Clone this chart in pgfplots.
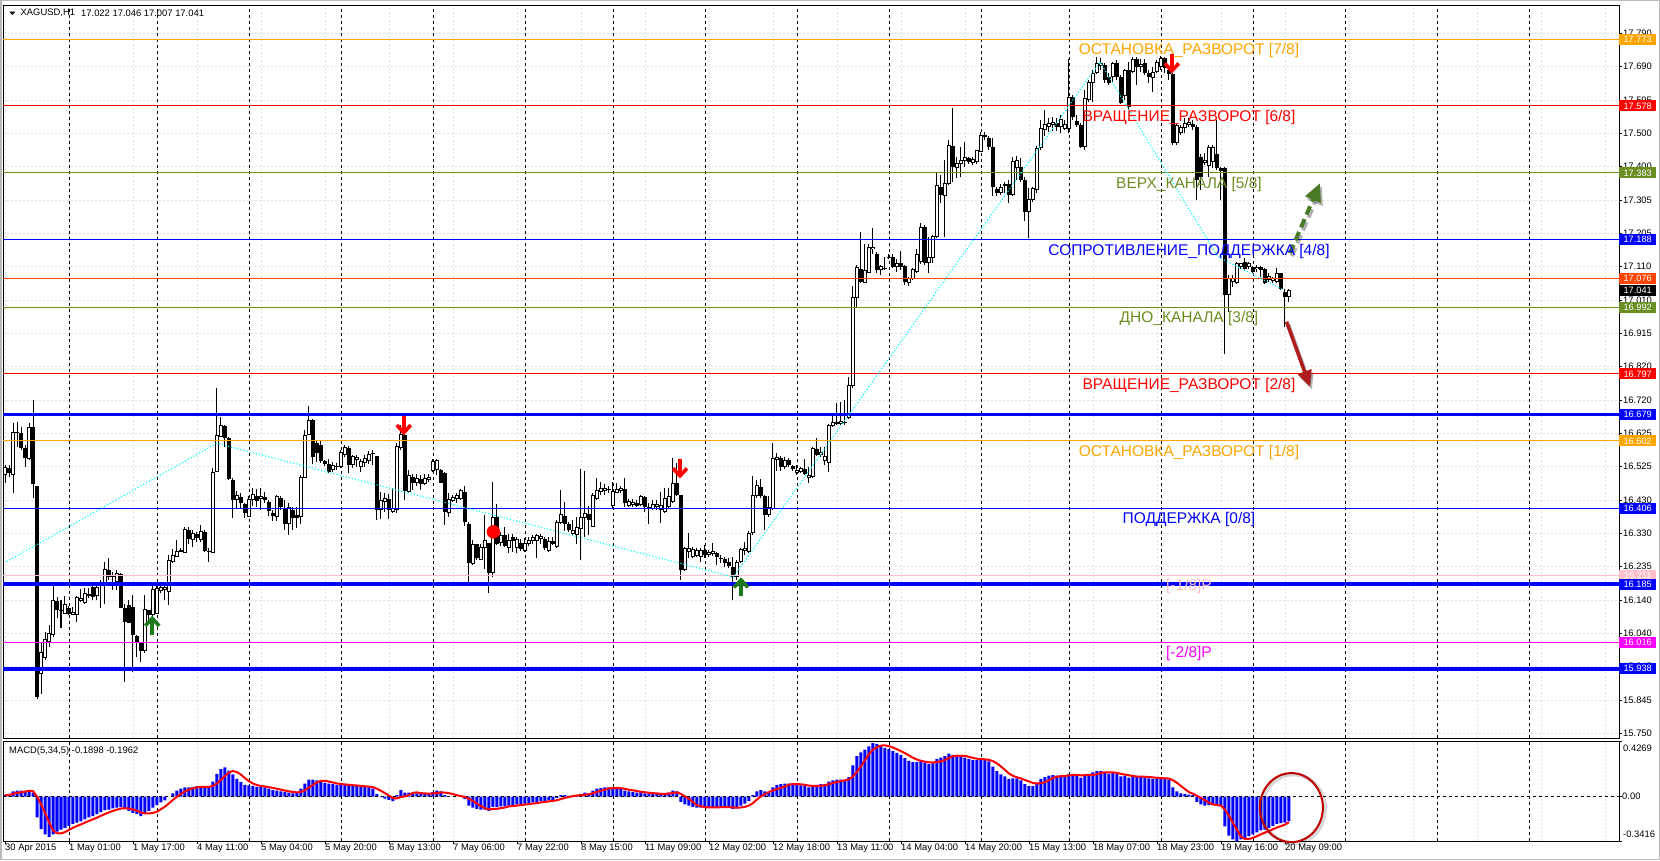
\documentclass[border=0pt]{standalone}
\usepackage{pgfplots}
\pgfplotsset{compat=1.18}
\usepackage{pgfplotstable}
\usepackage{fontspec}
\setmainfont{Liberation Sans}
\usetikzlibrary{arrows.meta}

\definecolor{mtorange}{HTML}{FFA500}
\definecolor{mtred}{HTML}{FF0000}
\definecolor{mtolive}{HTML}{6B8E23}
\definecolor{mtblue}{HTML}{0000FF}
\definecolor{mtorred}{HTML}{FF4500}
\definecolor{mtpink}{HTML}{FFC0CB}
\definecolor{mtmag}{HTML}{FF00FF}
\definecolor{mtcyan}{HTML}{00FFFF}
\definecolor{mtgreen}{HTML}{1C7A1C}
\definecolor{arrgreen}{HTML}{4A7A28}
\definecolor{arrred}{HTML}{B01C1C}
\definecolor{gridgray}{HTML}{E2E2E2}

\pgfdeclareplotmark{dnarrow}{%
  \pgfsetlinewidth{3.6pt}\pgfsetmiterjoin\pgfsetbuttcap
  \pgfpathmoveto{\pgfqpoint{0pt}{9pt}}\pgfpathlineto{\pgfqpoint{0pt}{-6pt}}\pgfusepathqstroke
  \pgfpathmoveto{\pgfqpoint{-7pt}{0pt}}\pgfpathlineto{\pgfqpoint{0pt}{-7.5pt}}\pgfpathlineto{\pgfqpoint{7pt}{0pt}}\pgfusepathqstroke}
\pgfdeclareplotmark{uparrow}{%
  \pgfsetlinewidth{3.6pt}\pgfsetmiterjoin\pgfsetbuttcap
  \pgfpathmoveto{\pgfqpoint{0pt}{-9pt}}\pgfpathlineto{\pgfqpoint{0pt}{6pt}}\pgfusepathqstroke
  \pgfpathmoveto{\pgfqpoint{-7pt}{0pt}}\pgfpathlineto{\pgfqpoint{0pt}{7.5pt}}\pgfpathlineto{\pgfqpoint{7pt}{0pt}}\pgfusepathqstroke}

\pgfplotstableread{
i o h l c m s
0 16.502 16.531 16.478 16.527 0.010 0.010
1 16.522 16.531 16.497 16.507 0.020 0.012
2 16.502 16.653 16.449 16.629 0.040 0.020
3 16.624 16.658 16.585 16.629 0.045 0.029
4 16.624 16.643 16.575 16.580 0.045 0.032
5 16.580 16.590 16.525 16.551 0.040 0.038
6 16.548 16.653 16.546 16.643 0.050 0.044
7 16.643 16.721 16.437 16.475 0.030 0.042
8 16.470 16.470 15.849 15.857 -0.160 0.001
9 15.924 16.012 15.864 15.988 -0.250 -0.058
10 15.968 16.046 15.963 16.024 -0.290 -0.124
11 16.017 16.065 16.002 16.041 -0.310 -0.196
12 16.036 16.189 16.031 16.138 -0.290 -0.260
13 16.136 16.148 16.085 16.109 -0.270 -0.282
14 16.109 16.138 16.056 16.107 -0.255 -0.283
15 16.099 16.150 16.099 16.128 -0.240 -0.273
16 16.114 16.121 16.094 16.099 -0.225 -0.256
17 16.096 16.119 16.094 16.104 -0.210 -0.240
18 16.096 16.150 16.075 16.146 -0.200 -0.226
19 16.136 16.169 16.133 16.143 -0.190 -0.214
20 16.130 16.172 16.128 16.158 -0.175 -0.200
21 16.150 16.172 16.143 16.156 -0.160 -0.187
22 16.175 16.187 16.138 16.148 -0.150 -0.175
23 16.150 16.192 16.138 16.175 -0.135 -0.162
24 16.192 16.196 16.114 16.182 -0.120 -0.148
25 16.182 16.250 16.128 16.230 -0.105 -0.134
26 16.226 16.260 16.196 16.206 -0.100 -0.122
27 16.206 16.221 16.167 16.211 -0.090 -0.110
28 16.192 16.226 16.167 16.216 -0.085 -0.100
29 16.214 16.218 16.114 16.114 -0.080 -0.092
30 16.114 16.128 15.900 16.075 -0.095 -0.090
31 16.124 16.138 16.070 16.070 -0.110 -0.092
32 16.117 16.153 15.929 16.036 -0.125 -0.099
33 16.033 16.036 15.973 16.012 -0.135 -0.109
34 16.012 16.017 15.958 15.991 -0.150 -0.123
35 15.991 16.153 15.983 16.111 -0.130 -0.130
36 16.109 16.109 16.070 16.094 -0.110 -0.130
37 16.094 16.187 16.041 16.169 -0.085 -0.126
38 16.099 16.185 16.099 16.172 -0.065 -0.116
39 16.165 16.182 16.158 16.175 -0.045 -0.097
40 16.167 16.185 16.138 16.175 -0.030 -0.077
41 16.162 16.269 16.124 16.255 0.000 -0.052
42 16.250 16.286 16.247 16.269 0.025 -0.025
43 16.264 16.313 16.264 16.282 0.045 -0.001
44 16.279 16.289 16.279 16.284 0.060 0.020
45 16.276 16.352 16.276 16.344 0.070 0.040
46 16.342 16.352 16.303 16.315 0.070 0.054
47 16.313 16.342 16.293 16.334 0.075 0.064
48 16.332 16.337 16.308 16.318 0.080 0.071
49 16.313 16.357 16.308 16.340 0.075 0.074
50 16.337 16.342 16.279 16.282 0.070 0.074
51 16.279 16.289 16.250 16.282 0.070 0.074
52 16.276 16.522 16.274 16.512 0.115 0.082
53 16.512 16.755 16.512 16.619 0.175 0.101
54 16.614 16.672 16.614 16.648 0.210 0.130
55 16.645 16.648 16.585 16.609 0.225 0.159
56 16.609 16.614 16.488 16.490 0.200 0.185
57 16.488 16.495 16.376 16.431 0.170 0.196
58 16.429 16.457 16.405 16.444 0.135 0.188
59 16.439 16.451 16.405 16.420 0.110 0.168
60 16.418 16.422 16.376 16.391 0.090 0.141
61 16.381 16.441 16.381 16.434 0.085 0.118
62 16.431 16.466 16.412 16.447 0.080 0.100
63 16.441 16.461 16.410 16.427 0.075 0.088
64 16.433 16.466 16.400 16.441 0.075 0.081
65 16.439 16.454 16.422 16.429 0.070 0.077
66 16.425 16.431 16.383 16.398 0.060 0.072
67 16.393 16.402 16.369 16.383 0.050 0.066
68 16.379 16.443 16.369 16.441 0.045 0.060
69 16.437 16.441 16.400 16.408 0.040 0.053
70 16.405 16.431 16.342 16.360 0.035 0.046
71 16.360 16.420 16.327 16.410 0.030 0.040
72 16.400 16.410 16.342 16.376 0.025 0.035
73 16.386 16.408 16.347 16.376 0.030 0.032
74 16.379 16.502 16.361 16.497 0.060 0.036
75 16.493 16.633 16.493 16.619 0.100 0.049
76 16.619 16.703 16.619 16.662 0.130 0.069
77 16.662 16.667 16.536 16.554 0.130 0.090
78 16.595 16.604 16.541 16.567 0.125 0.109
79 16.590 16.604 16.538 16.544 0.115 0.120
80 16.544 16.546 16.529 16.534 0.105 0.121
81 16.536 16.548 16.507 16.512 0.100 0.115
82 16.517 16.541 16.512 16.531 0.095 0.108
83 16.527 16.538 16.517 16.529 0.090 0.101
84 16.527 16.575 16.522 16.570 0.090 0.096
85 16.561 16.590 16.556 16.585 0.090 0.093
86 16.580 16.587 16.507 16.531 0.085 0.090
87 16.531 16.561 16.522 16.558 0.080 0.087
88 16.546 16.561 16.527 16.556 0.080 0.085
89 16.525 16.548 16.512 16.544 0.075 0.082
90 16.538 16.561 16.527 16.551 0.075 0.079
91 16.544 16.573 16.536 16.563 0.070 0.076
92 16.563 16.575 16.531 16.567 0.060 0.072
93 16.558 16.558 16.371 16.402 0.020 0.060
94 16.400 16.454 16.373 16.429 -0.005 0.044
95 16.425 16.449 16.395 16.437 -0.015 0.026
96 16.433 16.447 16.373 16.402 -0.025 0.007
97 16.395 16.466 16.393 16.405 -0.035 -0.012
98 16.400 16.595 16.393 16.587 0.010 -0.014
99 16.580 16.648 16.575 16.622 0.050 -0.003
100 16.619 16.624 16.429 16.457 0.030 0.002
101 16.454 16.517 16.449 16.502 0.030 0.011
102 16.497 16.505 16.459 16.480 0.025 0.029
103 16.480 16.505 16.470 16.493 0.025 0.032
104 16.490 16.502 16.459 16.476 0.020 0.026
105 16.476 16.505 16.473 16.493 0.020 0.024
106 16.488 16.505 16.483 16.497 0.020 0.022
107 16.515 16.548 16.512 16.544 0.035 0.024
108 16.517 16.548 16.502 16.546 0.045 0.028
109 16.517 16.519 16.478 16.480 0.040 0.032
110 16.507 16.512 16.357 16.395 0.010 0.030
111 16.393 16.449 16.381 16.434 0.000 0.026
112 16.427 16.444 16.425 16.439 0.000 0.019
113 16.434 16.449 16.422 16.444 0.000 0.010
114 16.434 16.463 16.431 16.459 0.005 0.003
115 16.454 16.470 16.354 16.366 -0.020 -0.003
116 16.361 16.366 16.189 16.247 -0.070 -0.017
117 16.243 16.313 16.240 16.301 -0.085 -0.034
118 16.301 16.303 16.255 16.260 -0.095 -0.054
119 16.255 16.303 16.255 16.293 -0.100 -0.074
120 16.289 16.386 16.230 16.313 -0.100 -0.090
121 16.305 16.305 16.158 16.218 -0.110 -0.098
122 16.218 16.483 16.204 16.381 -0.080 -0.097
123 16.379 16.418 16.298 16.303 -0.080 -0.094
124 16.305 16.337 16.295 16.327 -0.075 -0.089
125 16.327 16.352 16.293 16.295 -0.075 -0.084
126 16.291 16.330 16.276 16.313 -0.070 -0.076
127 16.323 16.332 16.279 16.311 -0.065 -0.073
128 16.289 16.321 16.276 16.315 -0.060 -0.069
129 16.305 16.315 16.282 16.286 -0.060 -0.066
130 16.282 16.318 16.279 16.305 -0.055 -0.062
131 16.303 16.323 16.295 16.313 -0.050 -0.058
132 16.311 16.327 16.303 16.323 -0.045 -0.054
133 16.311 16.332 16.262 16.327 -0.040 -0.050
134 16.315 16.332 16.303 16.325 -0.035 -0.045
135 16.315 16.323 16.284 16.289 -0.035 -0.041
136 16.282 16.323 16.279 16.311 -0.030 -0.037
137 16.310 16.323 16.298 16.303 -0.030 -0.034
138 16.293 16.371 16.291 16.366 -0.010 -0.028
139 16.363 16.459 16.360 16.389 0.010 -0.019
140 16.383 16.425 16.340 16.360 0.010 -0.010
141 16.360 16.366 16.337 16.342 0.005 -0.003
142 16.330 16.371 16.327 16.342 0.005 0.004
143 16.327 16.381 16.303 16.350 0.010 0.008
144 16.344 16.519 16.255 16.379 0.020 0.010
145 16.376 16.515 16.323 16.393 0.030 0.014
146 16.389 16.412 16.327 16.371 0.025 0.018
147 16.352 16.449 16.352 16.444 0.045 0.026
148 16.434 16.493 16.431 16.459 0.060 0.036
149 16.454 16.483 16.444 16.466 0.065 0.045
150 16.457 16.476 16.444 16.466 0.070 0.053
151 16.459 16.470 16.449 16.463 0.070 0.062
152 16.412 16.483 16.405 16.457 0.060 0.065
153 16.451 16.478 16.449 16.463 0.060 0.065
154 16.457 16.470 16.449 16.466 0.060 0.064
155 16.461 16.493 16.410 16.420 0.045 0.059
156 16.412 16.434 16.408 16.427 0.040 0.052
157 16.415 16.434 16.410 16.425 0.035 0.048
158 16.422 16.429 16.408 16.412 0.030 0.042
159 16.415 16.444 16.412 16.441 0.035 0.037
160 16.439 16.441 16.395 16.408 0.025 0.033
161 16.405 16.420 16.361 16.410 0.020 0.029
162 16.405 16.429 16.400 16.418 0.020 0.026
163 16.408 16.431 16.402 16.418 0.020 0.024
164 16.401 16.454 16.362 16.415 0.020 0.021
165 16.396 16.464 16.391 16.435 0.025 0.021
166 16.410 16.464 16.406 16.440 0.030 0.023
167 16.425 16.551 16.420 16.480 0.045 0.028
168 16.478 16.537 16.440 16.444 0.040 0.032
169 16.444 16.444 16.197 16.226 -0.040 0.020
170 16.226 16.294 16.224 16.289 -0.060 0.002
171 16.279 16.333 16.260 16.289 -0.070 -0.017
172 16.263 16.294 16.260 16.286 -0.080 -0.042
173 16.267 16.289 16.263 16.284 -0.085 -0.067
174 16.265 16.289 16.250 16.284 -0.085 -0.074
175 16.284 16.299 16.260 16.270 -0.085 -0.081
176 16.270 16.284 16.263 16.279 -0.085 -0.084
177 16.272 16.304 16.267 16.282 -0.080 -0.084
178 16.274 16.279 16.240 16.265 -0.080 -0.083
179 16.262 16.270 16.245 16.259 -0.080 -0.082
180 16.257 16.265 16.236 16.247 -0.080 -0.081
181 16.250 16.260 16.231 16.238 -0.085 -0.081
182 16.236 16.263 16.138 16.204 -0.095 -0.084
183 16.204 16.255 16.197 16.250 -0.090 -0.086
184 16.250 16.289 16.245 16.286 -0.070 -0.084
185 16.282 16.308 16.270 16.289 -0.055 -0.079
186 16.279 16.338 16.274 16.335 -0.035 -0.069
187 16.333 16.500 16.328 16.444 0.010 -0.050
188 16.440 16.488 16.435 16.474 0.040 -0.022
189 16.467 16.490 16.435 16.440 0.050 0.002
190 16.440 16.444 16.342 16.386 0.040 0.019
191 16.386 16.440 16.381 16.410 0.035 0.035
192 16.403 16.595 16.401 16.551 0.070 0.047
193 16.546 16.566 16.515 16.556 0.090 0.057
194 16.551 16.558 16.515 16.525 0.095 0.066
195 16.525 16.556 16.519 16.546 0.100 0.078
196 16.546 16.551 16.527 16.532 0.100 0.091
197 16.529 16.532 16.515 16.519 0.095 0.096
198 16.509 16.532 16.503 16.517 0.090 0.096
199 16.512 16.527 16.507 16.522 0.085 0.094
200 16.519 16.548 16.503 16.506 0.080 0.090
201 16.493 16.527 16.478 16.503 0.070 0.084
202 16.498 16.585 16.493 16.580 0.085 0.082
203 16.577 16.609 16.558 16.561 0.090 0.082
204 16.561 16.585 16.556 16.571 0.095 0.083
205 16.542 16.585 16.532 16.558 0.095 0.087
206 16.539 16.651 16.512 16.648 0.115 0.096
207 16.645 16.682 16.643 16.658 0.125 0.104
208 16.658 16.711 16.648 16.651 0.130 0.112
209 16.651 16.716 16.648 16.661 0.130 0.119
210 16.658 16.721 16.648 16.653 0.125 0.125
211 16.668 16.789 16.665 16.765 0.150 0.132
212 16.762 17.053 16.755 17.020 0.240 0.155
213 17.017 17.114 16.991 17.108 0.310 0.191
214 17.102 17.211 17.063 17.066 0.340 0.233
215 17.061 17.177 17.061 17.100 0.360 0.280
216 17.092 17.177 17.090 17.168 0.385 0.327
217 17.160 17.221 17.148 17.168 0.410 0.361
218 17.146 17.153 17.090 17.100 0.405 0.380
219 17.100 17.114 17.085 17.111 0.390 0.392
220 17.102 17.139 17.100 17.105 0.375 0.393
221 17.134 17.146 17.131 17.139 0.365 0.387
222 17.137 17.148 17.105 17.110 0.350 0.377
223 17.110 17.131 17.095 17.121 0.335 0.363
224 17.121 17.156 17.100 17.110 0.320 0.349
225 17.111 17.114 17.056 17.066 0.295 0.333
226 17.063 17.080 17.053 17.076 0.275 0.316
227 17.073 17.105 17.071 17.102 0.265 0.298
228 17.095 17.160 17.090 17.146 0.265 0.284
229 17.124 17.236 17.117 17.226 0.275 0.275
230 17.226 17.231 17.114 17.121 0.260 0.268
231 17.119 17.197 17.092 17.139 0.250 0.263
232 17.134 17.202 17.119 17.199 0.255 0.261
233 17.195 17.386 17.192 17.347 0.290 0.266
234 17.343 17.376 17.294 17.318 0.300 0.271
235 17.315 17.420 17.197 17.354 0.310 0.281
236 17.350 17.478 17.347 17.464 0.330 0.297
237 17.461 17.571 17.357 17.399 0.320 0.310
238 17.396 17.430 17.367 17.412 0.310 0.314
239 17.410 17.459 17.372 17.420 0.305 0.313
240 17.418 17.474 17.401 17.430 0.300 0.313
241 17.425 17.430 17.409 17.415 0.290 0.305
242 17.412 17.428 17.406 17.422 0.280 0.297
243 17.415 17.451 17.410 17.449 0.280 0.291
244 17.444 17.503 17.444 17.493 0.290 0.288
245 17.488 17.503 17.478 17.493 0.290 0.286
246 17.486 17.490 17.451 17.459 0.270 0.282
247 17.459 17.486 17.315 17.343 0.230 0.272
248 17.335 17.343 17.315 17.325 0.195 0.255
249 17.323 17.350 17.318 17.343 0.170 0.231
250 17.345 17.357 17.323 17.350 0.155 0.204
251 17.350 17.362 17.296 17.318 0.135 0.177
252 17.318 17.430 17.315 17.418 0.140 0.159
253 17.396 17.432 17.362 17.420 0.140 0.148
254 17.399 17.425 17.357 17.362 0.125 0.139
255 17.362 17.372 17.244 17.270 0.095 0.127
256 17.270 17.338 17.192 17.306 0.080 0.116
257 17.304 17.343 17.299 17.338 0.080 0.104
258 17.333 17.461 17.323 17.454 0.105 0.100
259 17.454 17.537 17.449 17.515 0.135 0.103
260 17.508 17.566 17.490 17.525 0.150 0.110
261 17.517 17.542 17.503 17.527 0.160 0.126
262 17.522 17.545 17.506 17.532 0.165 0.143
263 17.527 17.542 17.506 17.517 0.160 0.152
264 17.517 17.551 17.498 17.539 0.160 0.157
265 17.510 17.537 17.508 17.525 0.155 0.158
266 17.510 17.716 17.498 17.605 0.175 0.163
267 17.605 17.610 17.537 17.545 0.175 0.165
268 17.535 17.551 17.517 17.522 0.165 0.166
269 17.522 17.527 17.454 17.459 0.145 0.163
270 17.457 17.624 17.451 17.600 0.160 0.164
271 17.595 17.655 17.590 17.648 0.175 0.164
272 17.646 17.682 17.590 17.675 0.185 0.166
273 17.673 17.721 17.671 17.704 0.195 0.172
274 17.694 17.719 17.682 17.702 0.195 0.182
275 17.697 17.702 17.646 17.653 0.185 0.186
276 17.663 17.673 17.639 17.646 0.175 0.186
277 17.663 17.707 17.644 17.702 0.180 0.186
278 17.702 17.712 17.653 17.661 0.175 0.182
279 17.663 17.668 17.585 17.587 0.155 0.174
280 17.607 17.687 17.595 17.682 0.160 0.169
281 17.682 17.707 17.566 17.576 0.145 0.163
282 17.678 17.721 17.673 17.716 0.155 0.158
283 17.716 17.721 17.639 17.692 0.155 0.154
284 17.690 17.716 17.678 17.700 0.155 0.154
285 17.704 17.714 17.668 17.673 0.150 0.152
286 17.675 17.682 17.644 17.663 0.140 0.150
287 17.658 17.692 17.619 17.678 0.135 0.147
288 17.678 17.712 17.673 17.707 0.140 0.144
289 17.690 17.723 17.682 17.719 0.145 0.142
290 17.719 17.721 17.675 17.688 0.140 0.140
291 17.684 17.697 17.655 17.671 0.130 0.138
292 17.671 17.675 17.464 17.469 0.070 0.125
293 17.469 17.527 17.464 17.522 0.040 0.105
294 17.498 17.522 17.493 17.517 0.025 0.081
295 17.513 17.542 17.500 17.529 0.020 0.057
296 17.522 17.542 17.517 17.532 0.015 0.034
297 17.525 17.537 17.508 17.517 0.010 0.022
298 17.517 17.522 17.304 17.362 -0.040 0.006
299 17.430 17.438 17.333 17.372 -0.060 -0.011
300 17.411 17.440 17.406 17.420 -0.070 -0.029
301 17.403 17.464 17.372 17.459 -0.065 -0.047
302 17.415 17.464 17.396 17.457 -0.065 -0.060
303 17.438 17.537 17.391 17.396 -0.070 -0.066
304 17.396 17.401 17.304 17.389 -0.075 -0.069
305 17.396 17.401 16.855 17.027 -0.230 -0.101
306 17.027 17.085 16.978 17.078 -0.300 -0.148
307 17.066 17.085 17.051 17.076 -0.330 -0.202
308 17.061 17.124 17.059 17.119 -0.342 -0.256
309 17.108 17.121 17.102 17.119 -0.330 -0.309
310 17.124 17.134 17.098 17.102 -0.320 -0.326
311 17.110 17.124 17.102 17.119 -0.305 -0.326
312 17.108 17.112 17.090 17.095 -0.290 -0.318
313 17.102 17.115 17.095 17.110 -0.275 -0.304
314 17.108 17.112 17.080 17.100 -0.260 -0.290
315 17.102 17.105 17.059 17.061 -0.255 -0.277
316 17.071 17.090 17.066 17.083 -0.240 -0.265
317 17.069 17.080 17.063 17.076 -0.225 -0.251
318 17.066 17.105 17.061 17.092 -0.210 -0.238
319 17.090 17.092 17.042 17.046 -0.205 -0.227
320 17.037 17.044 16.933 17.022 -0.200 -0.216
321 17.022 17.046 17.007 17.041 -0.1898 -0.1962
}\candles

\pgfplotsset{
  mtaxis/.style={
    scale only axis, width=1616pt,
    xmin=-0.5, xmax=403.5,
    axis line style={line width=0.8pt},
    clip mode=individual,
    tick align=outside, major tick length=3pt,
    tick style={black, line width=0.6pt},
    xtick={0,16,...,320},
    minor xtick={336,352,...,400},
    xmajorgrids, xminorgrids,
    minor tick length=0pt,
    grid style={gridgray, dash pattern=on 2pt off 2pt, line width=0.7pt},
    extra x ticks={16,38,61,84,107,130,152,175,198,221,244,266,289,312,335,358,381},
    extra x tick labels={},
    extra x tick style={grid=major, major grid style={black, dash pattern=on 3pt off 3pt, line width=0.8pt}, major tick length=0pt},
    ytick pos=right, yticklabel pos=right,
    tick label style={font=\fontsize{9.4}{10}\selectfont},
  }
}

\newcommand{\lvl}[3]{\node[text=#1, anchor=base, font=\fontsize{15.5}{17}\selectfont, inner sep=0pt, yshift=-15.6pt] at (axis cs:296,#2) {#3};}
\newcommand{\pbox}[3][white]{\node[fill=#2, text=#1, anchor=west, minimum width=37pt, minimum height=11pt, inner sep=0pt, font=\fontsize{9.2}{10}\selectfont] at (axis cs:403.5,#3) {#3};}

\begin{document}
\begin{tikzpicture}[x=1pt,y=1pt]
\useasboundingbox (0,0) rectangle (1660,860);
\fill[white] (0,0) rectangle (1660,860);
\draw[gray!55, line width=1.5pt] (0.75,0.75) rectangle (1659.25,859.25);

% ---------------- price panel ----------------
\begin{axis}[mtaxis, at={(3pt,122pt)}, anchor=south west, height=733pt,
  ymin=15.7363, ymax=17.8721,
  xticklabels={}, xtick style={draw=none},
  ytick={15.7500,15.8471,15.9443,16.0414,16.1386,16.2357,16.3329,16.4300,16.5271,16.6243,16.7214,16.8186,16.9157,17.0129,17.1100,17.2071,17.3043,17.4014,17.4986,17.5957,17.6929,17.7900},
  yticklabels={15.750,15.845,15.945,16.040,16.140,16.235,16.330,16.430,16.525,16.625,16.720,16.820,16.915,17.010,17.110,17.205,17.305,17.400,17.500,17.595,17.690,17.790},
  ymajorgrids,
  yticklabel style={anchor=west, inner sep=1pt},
]
% candles: wicks
\addplot[draw=none, mark=none, forget plot, error bars/.cd, y dir=plus, y explicit, error mark=none,
  error bar style={draw=black, solid, line width=1pt}]
  table[x=i, y=l, y error expr={\thisrow{h}-\thisrow{l}}] {\candles};
% bodies
\addplot[draw=none, mark=none, forget plot, error bars/.cd, y dir=plus, y explicit, error mark=none,
  error bar style={draw=black, solid, line width=3.3pt}]
  table[x=i, y expr={min(\thisrow{o},\thisrow{c})}, y error expr={max(abs(\thisrow{c}-\thisrow{o}),0.0029)}] {\candles};
% hollow (bullish) bodies
\addplot[draw=none, mark=none, forget plot, restrict expr to domain={\thisrow{c}-\thisrow{o}}{0.0062:100},
  error bars/.cd, y dir=plus, y explicit, error mark=none,
  error bar style={draw=white, solid, line width=1.3pt}]
  table[x=i, y expr={\thisrow{o}+0.0029}, y error expr={\thisrow{c}-\thisrow{o}-0.0058}] {\candles};

% Murrey levels
\addplot[mtorange, line width=1pt] coordinates {(-0.5,17.773) (403.5,17.773)};
\addplot[mtred, line width=1pt] coordinates {(-0.5,17.578) (403.5,17.578)};
\addplot[mtolive, line width=1pt] coordinates {(-0.5,17.383) (403.5,17.383)};
\addplot[mtblue, line width=1pt] coordinates {(-0.5,17.188) (403.5,17.188)};
\addplot[mtorred, line width=1pt] coordinates {(-0.5,17.076) (403.5,17.076)};
\addplot[mtolive, line width=1pt] coordinates {(-0.5,16.992) (403.5,16.992)};
\addplot[mtred, line width=1pt] coordinates {(-0.5,16.797) (403.5,16.797)};
\addplot[mtblue, line width=3.5pt] coordinates {(-0.5,16.679) (403.5,16.679)};
\addplot[mtorange, line width=1pt] coordinates {(-0.5,16.602) (403.5,16.602)};
\addplot[mtblue, line width=1pt] coordinates {(-0.5,16.406) (403.5,16.406)};
\addplot[mtpink, line width=1pt] coordinates {(-0.5,16.211) (403.5,16.211)};
\addplot[mtblue, line width=3.5pt] coordinates {(-0.5,16.185) (403.5,16.185)};
\addplot[mtmag, line width=1pt] coordinates {(-0.5,16.016) (403.5,16.016)};
\addplot[mtblue, line width=3.5pt] coordinates {(-0.5,15.938) (403.5,15.938)};

% zigzag
\addplot[mtcyan, line width=1.1pt, dash pattern=on 1.2pt off 2pt] coordinates {(0.4,16.250) (52.9,16.595) (182.1,16.205) (273.75,17.706) (303.2,17.139) (319.6,17.042)};

% signal arrows and dot
\addplot[only marks, mark=dnarrow, mtred] coordinates {(99.7,16.648) (168.75,16.522) (291.7,17.702)};
\addplot[only marks, mark=uparrow, mtgreen] coordinates {(36.8,16.063) (184,16.175)};
\addplot[only marks, mark=*, mark size=6.5pt, mtred] coordinates {(122.1,16.337)};

% forecast arrows
\addplot[black, opacity=0.3, line width=4pt, dash pattern=on 9pt off 5pt, -{Triangle[length=18pt,width=16pt]}, xshift=2pt, yshift=-3pt] coordinates {(321.25,17.149) (328.75,17.353)};
\addplot[arrgreen, line width=4pt, dash pattern=on 9pt off 5pt, -{Triangle[length=18pt,width=16pt]}] coordinates {(321.25,17.149) (328.75,17.353)};
\addplot[black, opacity=0.3, line width=3.5pt, -{Triangle[length=16pt,width=14pt]}, xshift=2pt, yshift=-3pt] coordinates {(320.4,16.949) (326.25,16.760)};
\addplot[arrred, line width=3.5pt, -{Triangle[length=16pt,width=14pt]}] coordinates {(320.4,16.949) (326.25,16.760)};

% level labels
\lvl{mtorange}{17.773}{ОСТАНОВКА\_РАЗВОРОТ [7/8]}
\lvl{mtred}{17.578}{ВРАЩЕНИЕ\_РАЗВОРОТ [6/8]}
\lvl{mtolive}{17.383}{ВЕРХ\_КАНАЛА [5/8]}
\lvl{mtblue}{17.188}{СОПРОТИВЛЕНИЕ\_ПОДДЕРЖКА [4/8]}
\lvl{mtolive}{16.992}{ДНО\_КАНАЛА [3/8]}
\lvl{mtred}{16.797}{ВРАЩЕНИЕ\_РАЗВОРОТ [2/8]}
\lvl{mtorange}{16.602}{ОСТАНОВКА\_РАЗВОРОТ [1/8]}
\lvl{mtblue}{16.406}{ПОДДЕРЖКА [0/8]}
\lvl{mtpink}{16.211}{[-1/8]P}
\lvl{mtmag}{16.016}{[-2/8]P}

% price boxes
\pbox{mtorange}{17.773}
\pbox{mtred}{17.578}
\pbox{mtolive}{17.383}
\pbox{mtblue}{17.188}
\pbox{mtorred}{17.076}
\pbox{black}{17.041}
\pbox{mtolive}{16.992}
\pbox{mtred}{16.797}
\pbox{mtblue}{16.679}
\pbox{mtorange}{16.602}
\pbox{mtblue}{16.406}
\pbox{mtpink}{16.211}
\pbox{mtblue}{16.185}
\pbox{mtmag}{16.016}
\pbox{mtblue}{15.938}
\end{axis}

% ---------------- MACD panel ----------------
\begin{axis}[mtaxis, at={(3pt,19pt)}, anchor=south west, height=100pt,
  ymin=-0.3416, ymax=0.4269,
  xtick pos=bottom,
  xticklabels={30 Apr 2015,1 May 01:00,1 May 17:00,4 May 11:00,5 May 04:00,5 May 20:00,6 May 13:00,7 May 06:00,7 May 22:00,8 May 15:00,11 May 09:00,12 May 02:00,12 May 18:00,13 May 11:00,14 May 04:00,14 May 20:00,15 May 13:00,18 May 07:00,18 May 23:00,19 May 16:00,20 May 09:00},
  xticklabel style={anchor=north west, inner sep=0pt},
  ytick={-0.3416,0,0.4269}, yticklabels={},
]
\addplot[ybar, bar width=3pt, bar shift=0pt, fill=mtblue, draw=none] table[x=i, y=m] {\candles};
\addplot[black, line width=0.8pt, dash pattern=on 3pt off 3pt] coordinates {(-0.5,0) (403.5,0)};
\addplot[mtred, line width=2pt, mark=none] table[x=i, y=s] {\candles};
\draw[black, opacity=0.15, line width=4pt] (axis cs:322.1,-0.095) ellipse [x radius=31.5pt, y radius=34.5pt];
\draw[red!75!black, line width=2pt] (axis cs:321.6,-0.085) ellipse [x radius=31.5pt, y radius=34.5pt];
\node[anchor=north west, inner sep=0pt, font=\fontsize{9.4}{10}\selectfont] at ([xshift=4pt,yshift=-4pt]rel axis cs:1,1) {0.4269};
\node[anchor=west, inner sep=0pt, font=\fontsize{9.4}{10}\selectfont] at ([xshift=3pt]axis cs:403.5,0) {0.00};
\node[anchor=south west, inner sep=0pt, font=\fontsize{9.4}{10}\selectfont] at ([xshift=4pt,yshift=3pt]rel axis cs:1,0) {-0.3416};
\end{axis}

% headers
\fill (9.3,848.3) -- (15.3,848.3) -- (12.3,845) -- cycle;
\node[anchor=west, inner sep=0pt, font=\fontsize{9.4}{10}\selectfont] at (20.5,846.7) {XAGUSD,H1};
\node[anchor=west, inner sep=0pt, font=\fontsize{9.4}{10}\selectfont] at (81,846.7) {17.022 17.046 17.007 17.041};
\node[anchor=west, inner sep=0pt, font=\fontsize{9.4}{10}\selectfont] at (9,109.3) {MACD(5,34,5) -0.1898 -0.1962};
\end{tikzpicture}
\end{document}
